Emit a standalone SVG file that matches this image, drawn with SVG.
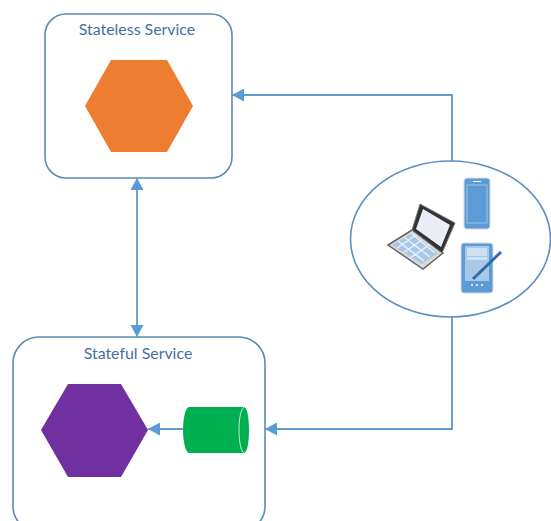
<svg xmlns="http://www.w3.org/2000/svg" width="551" height="521" viewBox="0 0 551 521">
<style>
.box{fill:#fff;stroke:#5a8ab5;stroke-width:1.6}
.lbl{font-family:"Lato","Open Sans",sans-serif;font-size:15.900px;fill:#44709e;text-anchor:middle}
.conn{fill:none;stroke:#5b9bd5;stroke-width:1.800}
.ic{fill:#5b9bd5}
</style>
<defs>
<marker id="ah" markerUnits="userSpaceOnUse" markerWidth="13" markerHeight="14" refX="12" refY="7" orient="auto-start-reverse"><path d="M0 0.500L12 7L0 13.500z" fill="#5b9bd5"/></marker>
<filter id="soft" x="-10%" y="-10%" width="120%" height="120%"><feGaussianBlur stdDeviation="0.5"/></filter>
</defs>
<rect width="551" height="521" fill="#fff"/>
<g id="stateless-service">
<rect class="box" x="45" y="14" width="187" height="164" rx="21"/>
<text class="lbl" x="137" y="35">Stateless Service</text>
<polygon points="111,60 167,60 193,106 167,152 111,152 85,106" fill="#ed7d31"/>
</g>
<g id="stateful-service">
<rect class="box" x="13" y="337" width="252" height="195" rx="26"/>
<text class="lbl" x="138" y="359">Stateful Service</text>
<polygon id="stateful-hexagon" points="68,384 121,384 148,430 121,477 68,477 41,430" fill="#7030a0"/>
<g id="storage">
<path d="M189 407H244C247 407 249 417 249 430C249 443 247 453 244 453H189C186 453 183 443 183 430C183 417 186 407 189 407Z" fill="#00b050"/>
<path d="M244 407C241 409 239 418 239 430C239 442 241 451 244 453" fill="none" stroke="#c5e8d2" stroke-width="1"/>
</g>
</g>
<g id="clients">
<ellipse class="box" cx="450.500" cy="239" rx="100" ry="78" style="stroke:#5b8fc0"/>
<g id="phone" filter="url(#soft)">
<rect x="464" y="178" width="26" height="51" rx="3" class="ic" stroke="#d5dde6" stroke-width="1"/>
<rect x="467" y="185" width="20" height="38" fill="#5b9bd5" stroke="#cfe0f2" stroke-width="0.600"/>
<path d="M473 181.500H481" stroke="#fff" stroke-width="1"/>
</g>
<g id="tablet" filter="url(#soft)">
<rect x="461" y="243" width="32" height="50" rx="3" class="ic" stroke="#d5dde6" stroke-width="1"/>
<rect x="465" y="246" width="24" height="35" fill="#a9c8e8"/>
<rect x="467" y="248" width="20" height="8" fill="#cfe0f2"/>
<rect x="467" y="257" width="20" height="3" fill="#cfe0f2"/>
<path d="M473 279L501 252" stroke="#2f6da8" stroke-width="3" fill="none"/>
<path d="M471 285h2M476 285h2M481 285h2" stroke="#fff" stroke-width="1.500"/>
</g>
<g id="laptop" filter="url(#soft)">
<polygon points="388,245 412,230 443,253 423,269" fill="#d9d9d9" stroke="#666" stroke-width="1.500"/>
<polygon points="392,245 412,233 438,253 422,264" fill="#a9c8e8"/>
<path d="M398 241L424 261M404 237L430 257M411 233L435 253M397 248L416 235M403 253L422 240M410 258L429 245" stroke="#e8f0f8" stroke-width="1.500" fill="none"/>
<polygon points="412,230 420,204 455,223 442,253" fill="#333" stroke="#777" stroke-width="1"/>
<polygon points="416,229 423,209 450,225 441,247" fill="#e9edf6"/>
</g>
</g>
<g id="connectors">
<path class="conn" d="M452 161V95H232" marker-end="url(#ah)"/>
<path class="conn" d="M452 317V429H265" marker-end="url(#ah)"/>
<path class="conn" d="M137 178V337" marker-start="url(#ah)" marker-end="url(#ah)"/>
<path class="conn" d="M183 429H148" marker-end="url(#ah)"/>
</g>
</svg>
